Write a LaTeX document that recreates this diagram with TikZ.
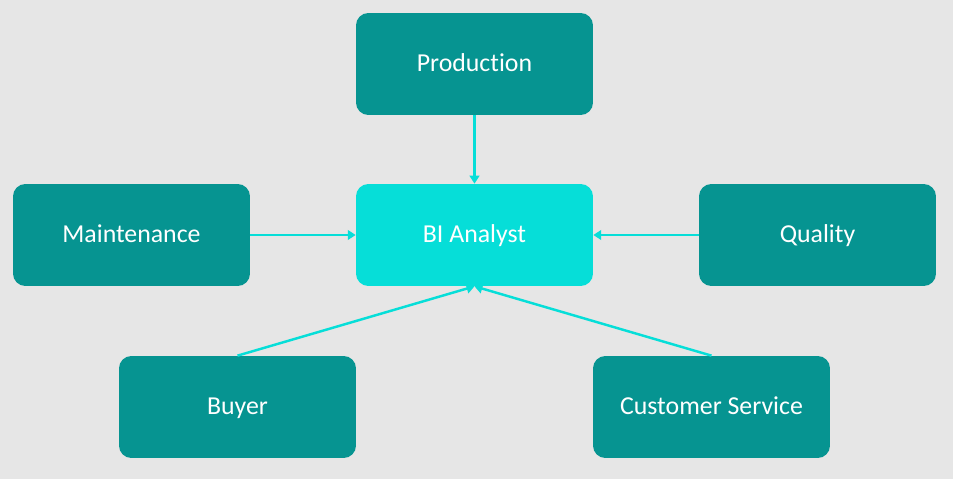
\documentclass[tikz,border=0pt]{standalone}
\usepackage{fontspec}
\setmainfont{Carlito}[Ligatures=NoCommon]
\usetikzlibrary{arrows.meta}
\definecolor{bgray}{HTML}{E6E6E6}
\definecolor{dteal}{HTML}{069491}
\definecolor{lcyan}{HTML}{06DED8}
\tikzset{
  dept/.style={rectangle, rounded corners=7pt, fill=dteal, text=white,
    minimum width=4.74cm, minimum height=2.04cm, inner sep=0pt,
    text height=2.0ex, text depth=0.25ex, font=\fontsize{14.7}{17}\selectfont},
  hub/.style={dept, fill=lcyan},
  feed/.style={draw=lcyan, line width=1.4pt, -{Triangle[width=5.5pt,length=4.5pt]}}
}
\begin{document}
\begin{tikzpicture}[x=0.02cm,y=-0.02cm]
\fill[bgray] (0,0) rectangle (953,479);
\useasboundingbox (0,0) rectangle (953,479);
\node[dept] (prod) at (474.5,64) {Production};
\node[hub] (bi) at (474.5,235) {BI Analyst};
\node[dept] (maint) at (131.5,235) {Maintenance};
\node[dept] (qual) at (817.5,235) {Quality};
\node[dept] (buyer) at (237.5,407) {Buyer};
\node[dept] (cust) at (711.5,407) {Customer Service};
\draw[feed] (prod) -- (bi);
\draw[feed] (maint) -- (bi);
\draw[feed] (qual) -- (bi);
\draw[feed] (buyer.north) -- (bi.south);
\draw[feed] (cust.north) -- (bi.south);
\end{tikzpicture}
\end{document}
